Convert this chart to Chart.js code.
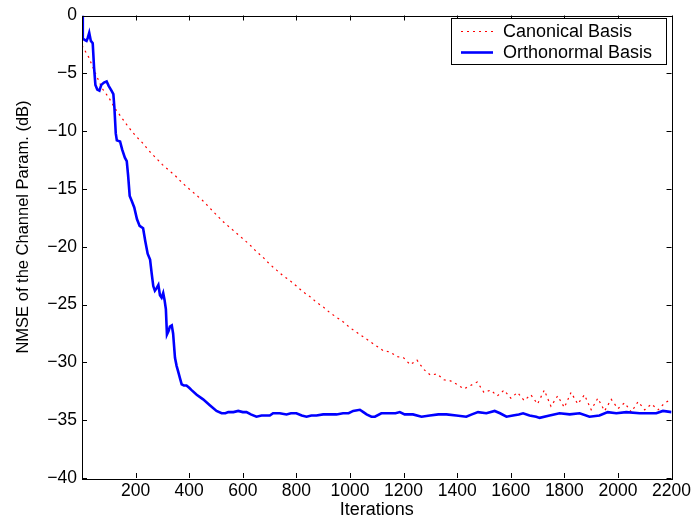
<!DOCTYPE html>
<html>
<head>
<meta charset="utf-8">
<script src="https://cdn.jsdelivr.net/npm/chart.js@4/dist/chart.umd.min.js"></script>
<style>
html,body{margin:0;padding:0;background:#fff;}
#wrap{width:694px;height:522px;}
</style>
</head>
<body>
<div id="wrap"><canvas id="c" width="694" height="522"></canvas></div>
<script>
// ---- data ----
const seriesNames = ["Canonical Basis", "Orthonormal Basis"];
const xTitle = "Iterations";
const yTitle = "NMSE of the Channel Param. (dB)";
const xTickValues = [200,400,600,800,1000,1200,1400,1600,1800,2000,2200];
const yTickValues = [0,-5,-10,-15,-20,-25,-30,-35,-40];

const canonicalX = [0,25,50,75,100,125,150,175,200,225,250,275,300,325,350,375,400,425,450,475,500,525,550,575,600,625,650,675,700,725,750,775,800,825,850,875,900,925,950,975,1000,1025,1050,1075,1100,1125,1150,1175,1200,1225,1250,1275,1300,1325,1350,1375,1400,1425,1450,1475,1500,1525,1550,1575,1600,1625,1650,1675,1700,1725,1750,1775,1800,1825,1850,1875,1900,1925,1950,1975,2000,2025,2050,2075,2100,2125,2150,2175,2200];
const canonicalY = [-2.6,-3.6,-5.0,-6.3,-7.1,-8.1,-8.9,-9.7,-10.4,-11.0,-11.7,-12.3,-12.9,-13.4,-13.9,-14.5,-15.0,-15.5,-16.0,-16.6,-17.2,-17.8,-18.3,-18.8,-19.3,-19.8,-20.4,-20.9,-21.5,-22.0,-22.5,-22.9,-23.4,-23.9,-24.3,-24.8,-25.2,-25.7,-26.1,-26.5,-27.0,-27.4,-27.8,-28.2,-28.6,-29.0,-29.1,-29.5,-29.6,-30.2,-29.8,-30.6,-31.1,-31.0,-31.5,-31.6,-31.9,-32.3,-32.0,-31.7,-32.6,-32.4,-32.9,-32.4,-33.1,-32.6,-33.3,-32.8,-33.6,-32.4,-33.8,-32.9,-33.9,-32.6,-33.6,-32.8,-34.1,-33.1,-34.2,-33.2,-34.0,-33.5,-34.3,-33.4,-34.1,-33.6,-34.1,-33.5,-33.2];

const orthoX = [1,3,10,17,22,27,33,40,45,50,57,65,72,82,92,100,110,117,121,126,130,142,150,160,167,172,178,185,195,205,215,228,236,245,254,260,266,272,278,285,291,297,303,308,313,317,323,328,335,340,347,353,359,366,372,380,390,400,409,428,452,477,502,521,535,546,565,583,600,614,630,651,670,689,701,713,738,763,780,800,820,838,856,875,900,925,950,974,995,1012,1037,1050,1062,1080,1093,1117,1148,1170,1186,1204,1235,1267,1298,1330,1360,1397,1434,1455,1478,1509,1540,1560,1584,1608,1630,1646,1670,1695,1708,1745,1782,1820,1857,1894,1931,1962,1994,2031,2081,2112,2143,2168,2200];
const orthoY = [0,-2.0,-2.1,-2.2,-1.9,-1.5,-2.2,-2.4,-4.5,-6.0,-6.4,-6.5,-6.0,-5.8,-5.7,-6.1,-6.5,-6.8,-8.0,-10.2,-10.8,-10.9,-11.6,-12.3,-12.6,-13.8,-15.6,-16.0,-16.6,-17.6,-18.2,-18.4,-19.5,-20.6,-21.1,-22.3,-23.4,-23.8,-23.6,-23.3,-24.2,-24.4,-24.0,-24.6,-25.4,-27.6,-27.3,-26.9,-26.8,-27.5,-29.6,-30.3,-30.8,-31.4,-31.9,-32.0,-32.0,-32.2,-32.4,-32.8,-33.2,-33.7,-34.2,-34.4,-34.4,-34.3,-34.3,-34.2,-34.3,-34.3,-34.5,-34.7,-34.6,-34.6,-34.6,-34.4,-34.4,-34.5,-34.4,-34.4,-34.6,-34.7,-34.6,-34.6,-34.5,-34.5,-34.5,-34.4,-34.4,-34.2,-34.1,-34.3,-34.5,-34.7,-34.7,-34.4,-34.4,-34.4,-34.3,-34.5,-34.5,-34.7,-34.6,-34.5,-34.5,-34.6,-34.7,-34.5,-34.3,-34.4,-34.2,-34.4,-34.7,-34.6,-34.5,-34.4,-34.6,-34.7,-34.8,-34.6,-34.4,-34.5,-34.4,-34.7,-34.6,-34.3,-34.4,-34.3,-34.4,-34.4,-34.4,-34.2,-34.3];

const FONT = "'Liberation Sans', Arial, Helvetica, sans-serif";
const fmt = v => (v < 0 ? "\u2212" + Math.abs(v) : String(v));

const canonicalData = canonicalX.map((x, i) => ({x: x, y: canonicalY[i]}));
const orthoData = orthoX.map((x, i) => ({x: x, y: orthoY[i]}));

const matlabAxes = {
  id: 'matlabAxes',
  afterDraw(chart) {
    const ctx = chart.ctx;
    const a = chart.chartArea;
    const xs = chart.scales.x, ys = chart.scales.y;
    ctx.save();
    ctx.strokeStyle = '#000';
    ctx.lineWidth = 1;
    const tl = 5;
    ctx.beginPath();
    xTickValues.forEach(v => {
      const px = Math.round(xs.getPixelForValue(v)) + 0.5;
      ctx.moveTo(px, a.bottom); ctx.lineTo(px, a.bottom - tl);
      ctx.moveTo(px, a.top); ctx.lineTo(px, a.top + tl);
    });
    yTickValues.forEach(v => {
      const py = Math.round(ys.getPixelForValue(v)) + 0.5;
      ctx.moveTo(a.left, py); ctx.lineTo(a.left + tl, py);
      ctx.moveTo(a.right, py); ctx.lineTo(a.right - tl, py);
    });
    ctx.stroke();
    ctx.strokeRect(Math.round(a.left) + 0.5, Math.round(a.top) + 0.5, Math.round(a.right - a.left), Math.round(a.bottom - a.top));
    ctx.fillStyle = '#000';
    ctx.font = "18px " + FONT;
    ctx.textAlign = 'center';
    ctx.textBaseline = 'middle';
    ctx.fillText(xTitle, (a.left + a.right) / 2, 510);
    ctx.save();
    ctx.translate(23, 227);
    ctx.rotate(-Math.PI / 2);
    ctx.font = "16.5px " + FONT;
    ctx.fillText(yTitle, 0, 0);
    ctx.restore();
    const lx = 451, ly = 18, lw = 215, lh = 46;
    ctx.fillStyle = '#fff';
    ctx.fillRect(lx, ly, lw, lh);
    ctx.strokeStyle = '#000';
    ctx.strokeRect(lx + 0.5, ly + 0.5, lw, lh);
    const ds = chart.data.datasets;
    const rows = [31, 52];
    ds.forEach((d, i) => {
      ctx.save();
      ctx.strokeStyle = d.borderColor;
      ctx.lineWidth = d.borderWidth;
      ctx.setLineDash(d.borderDash || []);
      ctx.beginPath();
      ctx.moveTo(461, rows[i] + 0.5);
      ctx.lineTo(493, rows[i] + 0.5);
      ctx.stroke();
      ctx.restore();
      ctx.fillStyle = '#000';
      ctx.font = "18px " + FONT;
      ctx.textAlign = 'left';
      ctx.textBaseline = 'middle';
      ctx.fillText(d.label, 503, rows[i] + 1);
    });
    ctx.restore();
  }
};

new Chart(document.getElementById('c'), {
  type: 'line',
  data: {
    datasets: [
      {
        label: seriesNames[0],
        data: canonicalData,
        borderColor: '#ff0000',
        borderWidth: 1.2,
        borderDash: [2, 4],
        pointRadius: 0,
        tension: 0,
        fill: false,
        order: 2
      },
      {
        label: seriesNames[1],
        data: orthoData,
        borderColor: '#0000ff',
        borderWidth: 2.6,
        pointRadius: 0,
        tension: 0,
        fill: false,
        order: 1
      }
    ]
  },
  plugins: [matlabAxes],
  options: {
    responsive: false,
    animation: false,
    devicePixelRatio: 1,
    layout: { padding: { left: 0, right: 22, top: 12, bottom: 0 } },
    plugins: { legend: { display: false }, tooltip: { enabled: false } },
    scales: {
      x: {
        type: 'linear',
        min: 0, max: 2200,
        afterBuildTicks: s => { s.ticks = xTickValues.map(v => ({value: v})); },
        afterFit: s => { s.height = 44; },
        grid: { display: false, drawTicks: false },
        border: { display: false },
        ticks: { color: '#000', font: { family: FONT, size: 17.5 }, padding: 3, maxRotation: 0, autoSkip: false,
                 callback: v => fmt(v) }
      },
      y: {
        type: 'linear',
        min: -40, max: 0,
        afterBuildTicks: s => { s.ticks = yTickValues.map(v => ({value: v})); },
        afterFit: s => { s.width = 82; },
        grid: { display: false, drawTicks: false },
        border: { display: false },
        ticks: { color: '#000', font: { family: FONT, size: 17.5 }, padding: 5, autoSkip: false,
                 callback: v => fmt(v) }
      }
    }
  }
});
</script>
</body>
</html>
